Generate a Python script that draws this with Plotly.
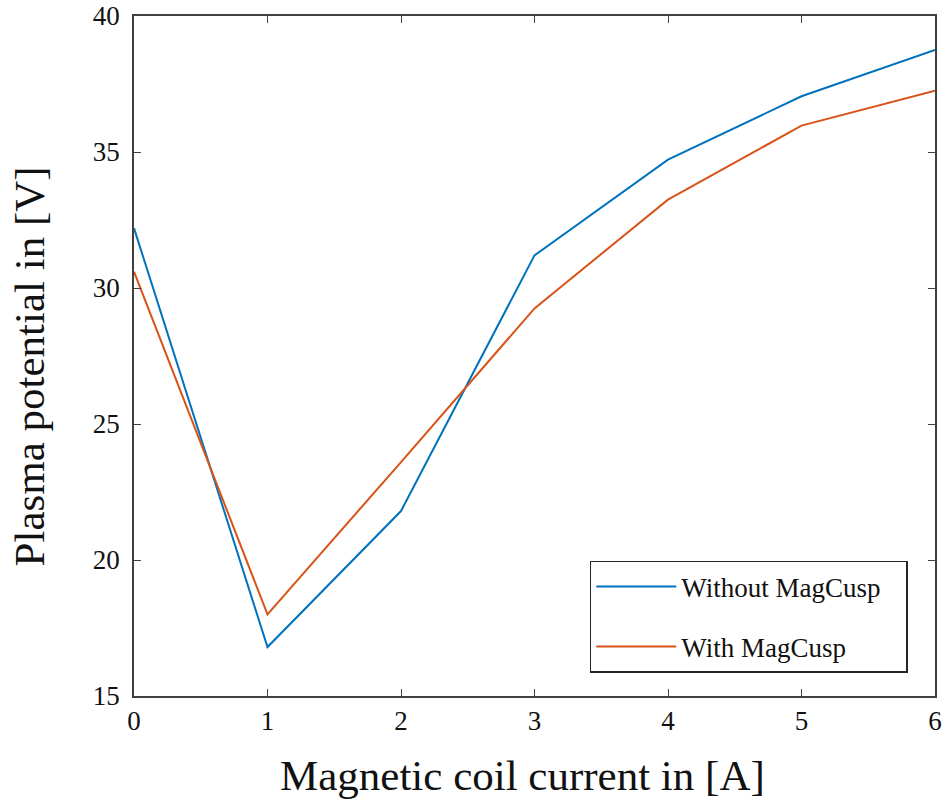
import plotly.graph_objects as go

current = [0, 1, 2, 3, 4, 5, 6]
without_magcusp = [32.2, 16.8, 21.8, 31.2, 34.72, 37.05, 38.75]
with_magcusp = [30.6, 18.0, 23.6, 29.25, 33.25, 35.97, 37.25]
series_names = ["Without MagCusp", "With MagCusp"]
x_ticks = [0, 1, 2, 3, 4, 5, 6]
y_ticks = [15, 20, 25, 30, 35, 40]
x_title = "Magnetic coil current in [A]"
y_title = "Plasma potential in [V]"

FONT = "Liberation Serif, Times New Roman, serif"
AXC = "#404040"
TXT = "#111"
PAD = "\u00a0\u00a0\u00a0"

fig = go.Figure()
fig.add_trace(go.Scatter(x=current, y=without_magcusp, mode="lines", name=series_names[0] + PAD,
                         line=dict(color="#0072BD", width=2), legendgroup="a"))
fig.add_trace(go.Scatter(x=current, y=with_magcusp, mode="lines", name=series_names[1],
                         line=dict(color="#D95319", width=2), legendgroup="b"))

axis_common = dict(showgrid=False, zeroline=False, showline=True, linecolor=AXC, linewidth=1.5,
                   mirror="ticks", ticks="inside", ticklen=7, tickwidth=1.2, tickcolor=AXC,
                   automargin=False, ticklabeloverflow="allow",
                   tickfont=dict(family=FONT, size=27, color=TXT))

fig.update_xaxes(range=[0, 6], tickvals=x_ticks, **axis_common)
fig.update_yaxes(range=[15, 40], tickvals=y_ticks, ticklabelstandoff=7, **axis_common)

fig.add_annotation(text=x_title, xref="paper", yref="paper", x=0.485, y=-0.1176,
                   xanchor="center", yanchor="middle", showarrow=False,
                   font=dict(family=FONT, size=43, color=TXT))
fig.add_annotation(text=y_title, xref="paper", yref="paper", x=-0.1311, y=0.4846,
                   xanchor="center", yanchor="middle", showarrow=False, textangle=-90,
                   font=dict(family=FONT, size=43, color=TXT))

fig.update_layout(
    width=944, height=805,
    margin=dict(l=134, r=9, t=16, b=109),
    paper_bgcolor="white", plot_bgcolor="white",
    showlegend=True,
    legend=dict(x=0.966, y=0.034, xanchor="right", yanchor="bottom",
                bgcolor="white", bordercolor="#262626", borderwidth=1.5,
                font=dict(family=FONT, size=27, color=TXT),
                itemwidth=80, tracegroupgap=22),
)

fig.write_html("out.html", config={"displayModeBar": False},
               post_script="document.body.style.margin='0';")
